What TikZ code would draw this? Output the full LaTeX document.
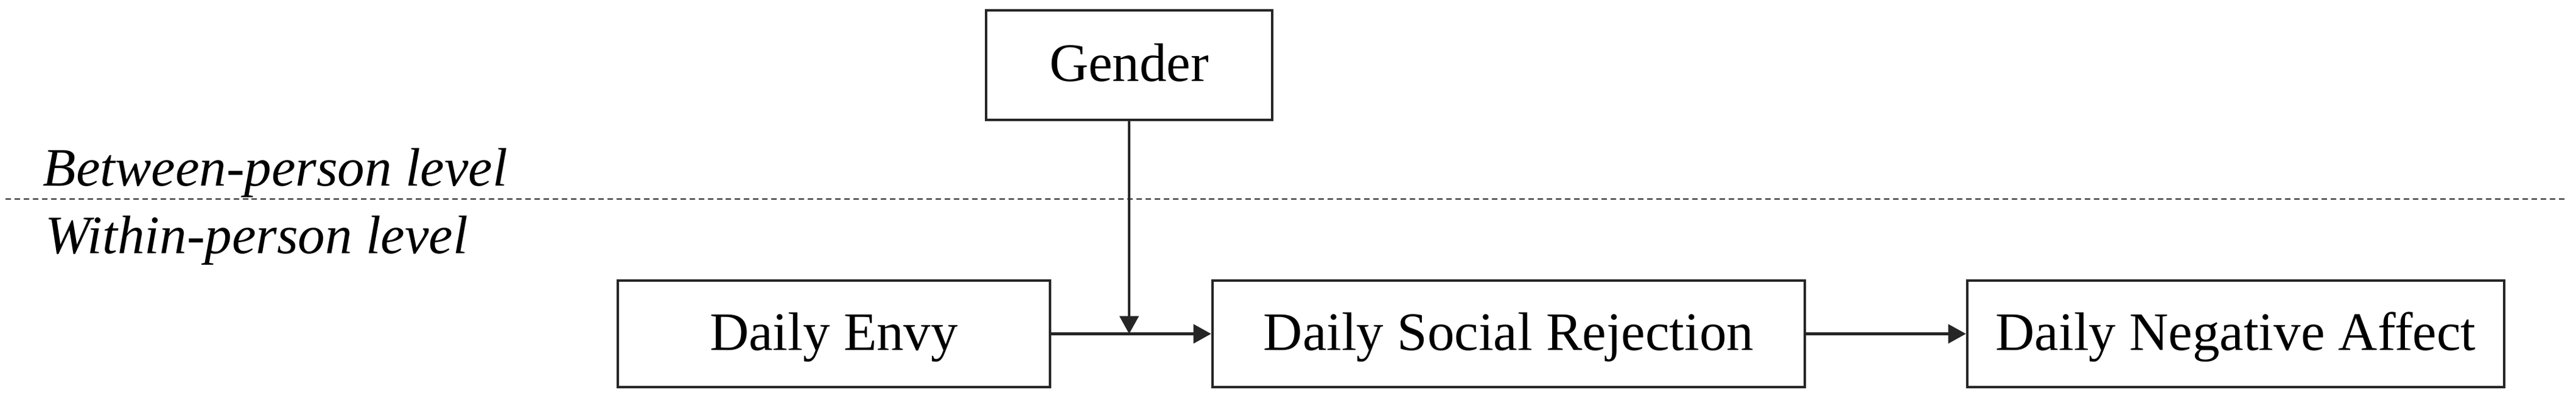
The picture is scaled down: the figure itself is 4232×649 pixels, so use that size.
\documentclass[tikz,border=0pt]{standalone}
\usepackage{fontspec}
\setmainfont{Liberation Serif}
\usetikzlibrary{arrows.meta}
\begin{document}
\begin{tikzpicture}[x=0.01cm,y=-0.01cm,
  box/.style={draw=black!85, line width=1.15pt, rectangle, inner sep=0pt,
    font=\fontsize{25.3}{30}\selectfont, text height=19pt, text depth=3.8pt},
  level/.style={font=\fontsize{25.3}{30}\selectfont\itshape, inner sep=0pt, anchor=base west},
  conn/.style={draw=black!85, line width=1.15pt, -{Triangle[length=0.29cm,width=0.31cm]}},
  sep/.style={draw=black!85, line width=0.85pt, dash pattern=on 2.56pt off 1.7pt}]
\useasboundingbox (0,0) rectangle (4232,649);
\fill[white] (0,0) rectangle (4232,649);
\node[box, minimum width=4.70cm, minimum height=1.80cm] (gender) at (1855,107) {Gender};
\node[box, minimum width=7.10cm, minimum height=1.75cm] (envy) at (1370,548.5) {Daily Envy};
\node[box, minimum width=9.73cm, minimum height=1.75cm] (social) at (2478.5,548.5) {Daily Social Rejection};
\node[box, minimum width=8.82cm, minimum height=1.75cm] (neg) at (3673,548.5) {Daily Negative Affect};
\coordinate (sepL) at (9,327);
\coordinate (sepR) at (4217,327);
\draw[sep] (sepL) -- (sepR);
\node[level] (between) at (70,306) {Between-person level};
\node[level] (within) at (74,417) {Within-person level};
\draw[conn] (envy.east) -- (social.west);
\draw[conn] (social.east) -- (neg.west);
\coordinate (mod) at (gender.south |- envy.east);
\draw[conn] (gender.south) -- (mod);
\end{tikzpicture}
\end{document}
